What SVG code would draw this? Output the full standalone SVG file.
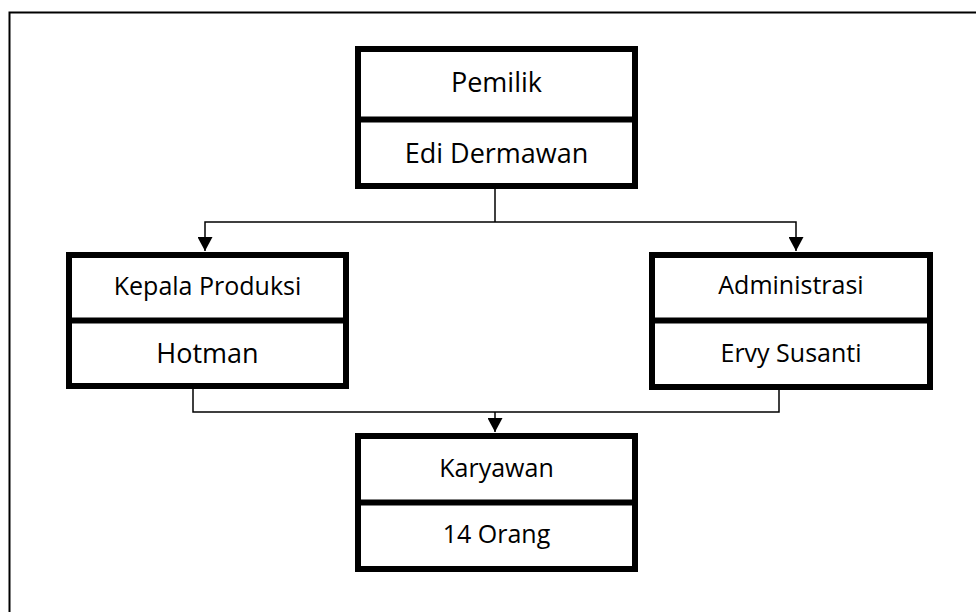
<svg xmlns="http://www.w3.org/2000/svg" width="976" height="612" viewBox="0 0 976 612">
<style>
.box{fill:#fff;stroke:#000;stroke-width:6}
.div{stroke:#000;stroke-width:6}
.t{font-family:"Open Sans","Liberation Sans",sans-serif;fill:#000;text-anchor:middle}
.c{fill:none;stroke:#000;stroke-width:1.5}
</style>
<defs>
<marker id="ah" markerWidth="15" markerHeight="15" refX="14" refY="7.5" orient="auto" markerUnits="userSpaceOnUse">
<path d="M0,0 L14,7.5 L0,15 Z" fill="#000"/>
</marker>
</defs>
<rect x="0" y="0" width="976" height="612" fill="#fff"/>
<path d="M9.5,612 V12.5 H976" fill="none" stroke="#000" stroke-width="2"/>
<g id="connectors">
<path class="c" d="M495,189 V222"/>
<path class="c" d="M495,222 H205 V251" marker-end="url(#ah)"/>
<path class="c" d="M495,222 H796 V251" marker-end="url(#ah)"/>
<path class="c" d="M193,389 V412 H779 V390"/>
<path class="c" d="M495,412 V432" marker-end="url(#ah)"/>
</g>
<g id="pemilik">
<rect class="box" x="358" y="49" width="277" height="137"/>
<line class="div" x1="358" y1="119.5" x2="635" y2="119.5"/>
<text class="t" x="496.5" y="92" font-size="27">Pemilik</text>
<text class="t" x="496.5" y="163" font-size="27">Edi Dermawan</text>
</g>
<g id="kepala-produksi">
<rect class="box" x="69" y="255" width="277" height="131"/>
<line class="div" x1="69" y1="320.5" x2="346" y2="320.5"/>
<text class="t" x="207.5" y="295" font-size="25">Kepala Produksi</text>
<text class="t" x="207.5" y="363" font-size="27">Hotman</text>
</g>
<g id="administrasi">
<rect class="box" x="652" y="255" width="278" height="132"/>
<line class="div" x1="652" y1="320.5" x2="930" y2="320.5"/>
<text class="t" x="791" y="294" font-size="25">Administrasi</text>
<text class="t" x="791" y="362" font-size="25">Ervy Susanti</text>
</g>
<g id="karyawan">
<rect class="box" x="358" y="436" width="277" height="133"/>
<line class="div" x1="358" y1="502.5" x2="635" y2="502.5"/>
<text class="t" x="496.5" y="477" font-size="25">Karyawan</text>
<text class="t" x="496.5" y="543" font-size="25">14 Orang</text>
</g>
</svg>
